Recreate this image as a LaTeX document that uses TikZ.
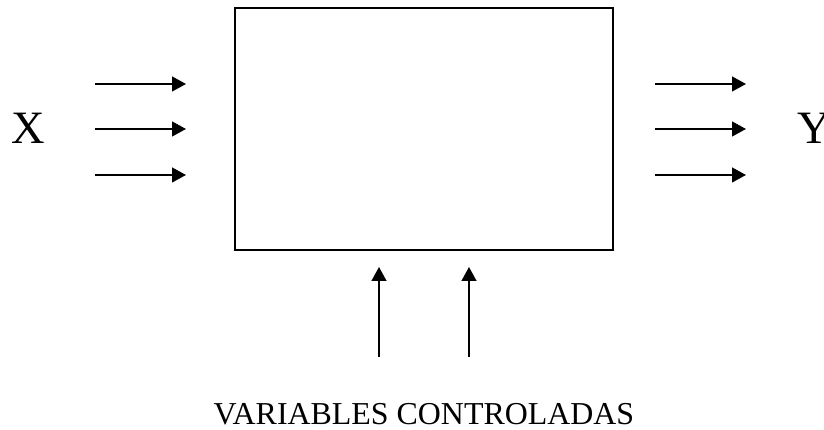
\documentclass[tikz,border=0pt]{standalone}
\usepackage{fontspec}
\setmainfont{Liberation Serif}
\usepackage{tikz}
\usetikzlibrary{arrows.meta,positioning}

\tikzset{
	flow/.style={line width=1.4pt,-{Triangle[length=0.35cm,width=0.37cm]}},
	bigletter/.style={font=\fontsize{33}{40}\selectfont,inner sep=0pt},
	caption/.style={font=\fontsize{22.7}{27}\selectfont,inner sep=0pt}
}

\begin{document}
\begin{tikzpicture}
		\path[use as bounding box,clip] (0,0) rectangle (20.6,10.75);
		
		%Process box
		\node[draw,line width=1.4pt,minimum width=9.45cm,minimum height=6.04cm,inner sep=0pt] (proc) at (10.6,7.52) {};
		
		%Inputs and outputs
		\foreach \y/\n in {8.65/1,7.525/2,6.375/3}{
			\coordinate (in\n) at (2.375,\y);
			\coordinate (inend\n) at (4.65,\y);
			\coordinate (out\n) at (16.375,\y);
			\coordinate (outend\n) at (18.65,\y);
			\draw[flow] (in\n) -- (inend\n);
			\draw[flow] (out\n) -- (outend\n);
		}
		\node[bigletter,anchor=base] (xlab) at (0.7,7.15) {X};
		\node[bigletter,anchor=base west] (ylab) at (19.925,7.15) {Y};
		
		%Controlled variables
		\foreach \x/\n in {9.475/1,11.725/2}{
			\coordinate (ctl\n) at (\x,1.825);
			\coordinate (ctlend\n) at (\x,4.075);
			\draw[flow] (ctl\n) -- (ctlend\n);
		}
		\node[caption,anchor=base] (ctltext) at (10.6,0.125) {VARIABLES CONTROLADAS};
	\end{tikzpicture}
\end{document}
